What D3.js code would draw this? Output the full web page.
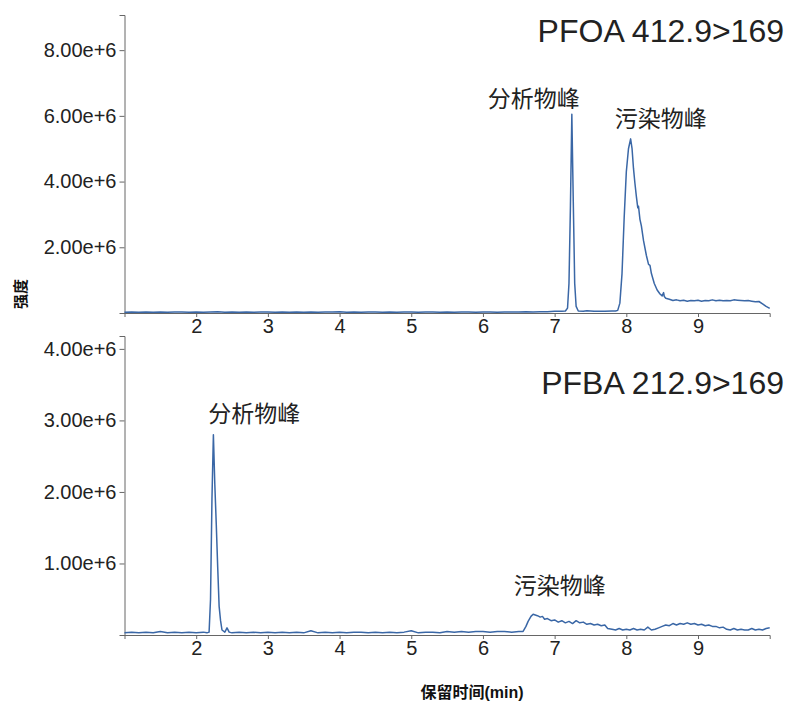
<!DOCTYPE html>
<html>
<head>
<meta charset="utf-8">
<script src="https://cdn.jsdelivr.net/npm/d3@7"></script>
<style>
  body { margin: 0; background: #fff; }
  svg text { font-family: "Liberation Sans", Arial, "Noto Sans CJK SC", sans-serif; }
  .axis path, .axis line { stroke: #666; }
  .axis text { fill: #222; font-size: 20px; }
</style>
</head>
<body>
<div id="chart"></div>
<script>
// retention time (min) and intensity (x 1e6)
var pfoaPoints = [
  [1.0,0.02],[1.1,0.03],[1.2,0.02],[1.3,0.03],[1.4,0.02],[1.5,0.03],[1.6,0.02],[1.7,0.03],[1.8,0.03],[1.9,0.02],
  [2.0,0.03],[2.1,0.02],[2.2,0.03],[2.3,0.04],[2.4,0.02],[2.5,0.03],[2.6,0.02],[2.7,0.03],[2.8,0.02],[2.9,0.03],
  [3.0,0.03],[3.1,0.02],[3.2,0.03],[3.3,0.02],[3.4,0.03],[3.5,0.02],[3.6,0.03],[3.7,0.02],[3.8,0.03],[3.9,0.03],
  [4.0,0.04],[4.1,0.02],[4.2,0.03],[4.3,0.02],[4.4,0.03],[4.5,0.03],[4.6,0.02],[4.7,0.03],[4.8,0.02],[4.9,0.03],
  [5.0,0.03],[5.1,0.02],[5.2,0.03],[5.3,0.03],[5.4,0.02],[5.5,0.03],[5.6,0.02],[5.7,0.03],[5.8,0.03],[5.9,0.02],
  [6.0,0.03],[6.1,0.03],[6.2,0.02],[6.3,0.03],[6.4,0.03],[6.5,0.03],[6.6,0.04],[6.7,0.03],[6.8,0.04],[6.9,0.04],
  [7.0,0.05],[7.1,0.05],[7.15,0.06],[7.18,0.15],[7.2,0.9],[7.22,3.2],[7.24,6.05],[7.26,3.4],[7.28,0.9],[7.3,0.2],
  [7.33,0.06],[7.4,0.05],[7.45,0.07],[7.5,0.06],[7.55,0.05],[7.6,0.05],[7.7,0.05],[7.8,0.06],[7.85,0.06],[7.88,0.08],
  [7.91,0.3],[7.94,1.2],[7.97,2.9],[8.0,4.3],[8.03,5.0],[8.06,5.3],[8.08,5.0],[8.1,4.4],[8.12,3.95],[8.14,3.55],
  [8.16,3.2],[8.17,3.25],[8.19,2.85],[8.21,2.65],[8.24,2.2],[8.28,1.75],[8.31,1.48],[8.33,1.45],[8.35,1.2],[8.39,0.9],
  [8.43,0.7],[8.47,0.58],[8.5,0.52],[8.52,0.62],[8.53,0.5],[8.55,0.45],[8.6,0.42],[8.65,0.38],[8.7,0.4],[8.75,0.37],
  [8.8,0.39],[8.85,0.36],[8.9,0.38],[8.95,0.37],[9.0,0.39],[9.05,0.36],[9.1,0.38],[9.15,0.37],[9.2,0.4],[9.25,0.37],
  [9.3,0.39],[9.35,0.37],[9.4,0.38],[9.45,0.37],[9.5,0.4],[9.55,0.39],[9.6,0.38],[9.65,0.37],[9.7,0.38],[9.75,0.36],
  [9.8,0.34],[9.85,0.35],[9.9,0.28],[9.95,0.2],[10.0,0.14]
];

var pfbaPoints = [
  [1.0,0.03],[1.1,0.04],[1.2,0.03],[1.3,0.04],[1.4,0.03],[1.5,0.05],[1.6,0.03],[1.7,0.04],[1.8,0.03],[1.9,0.04],
  [2.0,0.03],[2.1,0.04],[2.15,0.03],[2.18,0.04],[2.2,0.5],[2.22,1.9],[2.24,2.8],[2.26,2.1],[2.28,1.55],[2.3,0.95],
  [2.32,0.4],[2.34,0.2],[2.36,0.07],[2.4,0.04],[2.43,0.1],[2.46,0.04],[2.5,0.03],[2.6,0.04],[2.7,0.03],[2.8,0.04],
  [2.9,0.03],[3.0,0.04],[3.1,0.03],[3.2,0.04],[3.3,0.03],[3.4,0.04],[3.5,0.03],[3.6,0.06],[3.7,0.03],[3.8,0.04],
  [3.9,0.03],[4.0,0.04],[4.1,0.03],[4.2,0.04],[4.3,0.04],[4.4,0.03],[4.5,0.04],[4.6,0.03],[4.7,0.04],[4.8,0.03],
  [4.9,0.04],[5.0,0.06],[5.1,0.03],[5.2,0.04],[5.3,0.04],[5.4,0.03],[5.5,0.05],[5.6,0.04],[5.7,0.05],[5.8,0.04],
  [5.9,0.05],[6.0,0.05],[6.1,0.04],[6.2,0.05],[6.3,0.05],[6.4,0.04],[6.5,0.05],[6.56,0.05],[6.6,0.12],[6.63,0.19],
  [6.67,0.26],[6.7,0.29],[6.73,0.28],[6.76,0.27],[6.8,0.25],[6.83,0.26],[6.86,0.22],[6.9,0.23],[6.95,0.2],[7.0,0.21],
  [7.05,0.18],[7.1,0.2],[7.15,0.17],[7.2,0.19],[7.25,0.16],[7.3,0.2],[7.35,0.17],[7.4,0.18],[7.45,0.15],[7.5,0.16],
  [7.55,0.14],[7.6,0.15],[7.65,0.13],[7.7,0.14],[7.74,0.09],[7.8,0.08],[7.85,0.07],[7.9,0.09],[7.95,0.07],[8.0,0.08],
  [8.05,0.07],[8.1,0.09],[8.15,0.07],[8.2,0.08],[8.25,0.07],[8.3,0.11],[8.35,0.07],[8.4,0.08],[8.45,0.1],[8.5,0.12],
  [8.55,0.14],[8.6,0.13],[8.65,0.16],[8.7,0.14],[8.75,0.16],[8.8,0.15],[8.85,0.17],[8.9,0.15],[8.95,0.16],[9.0,0.14],
  [9.05,0.15],[9.1,0.13],[9.15,0.14],[9.2,0.12],[9.25,0.12],[9.3,0.1],[9.35,0.11],[9.4,0.08],[9.45,0.07],[9.5,0.09],
  [9.55,0.07],[9.6,0.08],[9.65,0.07],[9.7,0.07],[9.75,0.09],[9.8,0.07],[9.85,0.08],[9.9,0.07],[9.95,0.09],[10.0,0.1]
];

var xTicks = [2, 3, 4, 5, 6, 7, 8, 9];
var pfoaYTicks = [2, 4, 6, 8];
var pfbaYTicks = [1, 2, 3, 4];

var panelTitles = ["PFOA 412.9>169", "PFBA 212.9>169"];
// peak labels: text, time, intensity at the text baseline
var pfoaLabels = [["分析物峰", 6.71, 6.27], ["污染物峰", 8.48, 5.66]];
var pfbaLabels = [["分析物峰", 2.81, 2.98], ["污染物峰", 7.07, 0.58]];

var width = 790
var height = 702
var lineColor = '#3a67a6'

var svg = d3.select('#chart').append('svg')
    .attr('width', width)
    .attr('height', height)

var x = d3.scaleLinear().domain([1, 10]).range([124.5, 769.7])

var fmt = d3.format('.2e')

function panel(points, yMax, yTop, yBottom, yTicks, title, titleY, labels) {
    var y = d3.scaleLinear().domain([0, yMax]).range([yBottom, yTop])

    svg.append('g')
        .attr('class', 'axis')
        .attr('transform', 'translate(0,' + yBottom + ')')
        .call(d3.axisBottom(x).tickValues(xTicks).tickSize(4).tickSizeOuter(4).tickPadding(2)
            .tickFormat(d3.format('d')))

    svg.append('g')
        .attr('class', 'axis')
        .attr('transform', 'translate(' + x(1) + ',0)')
        .call(d3.axisLeft(y).tickValues(yTicks).tickSize(5).tickSizeOuter(5).tickPadding(3)
            .tickFormat(function (d) { return fmt(d * 1e6) }))

    var line = d3.line()
        .x(function (d) { return x(d[0]) })
        .y(function (d) { return y(d[1]) })

    svg.append('path')
        .datum(points)
        .attr('d', line)
        .attr('fill', 'none')
        .attr('stroke', lineColor)
        .attr('stroke-width', 1.5)
        .attr('stroke-linejoin', 'round')

    svg.append('text')
        .attr('x', 784)
        .attr('y', titleY)
        .attr('text-anchor', 'end')
        .style('font-size', '32px')
        .style('fill', '#222')
        .text(title)

    svg.selectAll(null)
        .data(labels)
        .enter()
        .append('text')
        .attr('x', function (d) { return x(d[1]) })
        .attr('y', function (d) { return y(d[2]) })
        .attr('text-anchor', 'middle')
        .style('font-size', '23px')
        .style('fill', '#222')
        .text(function (d) { return d[0] })
}

panel(pfoaPoints, 9.07, 15, 313, pfoaYTicks, panelTitles[0], 42, pfoaLabels)
panel(pfbaPoints, 4.18, 336, 635, pfbaYTicks, panelTitles[1], 394, pfbaLabels)

// axis titles
svg.append('text')
    .attr('transform', 'translate(26,294) rotate(-90)')
    .attr('text-anchor', 'middle')
    .style('font-size', '15px')
    .style('font-weight', 'bold')
    .style('fill', '#111')
    .text('强度')

svg.append('text')
    .attr('x', 472)
    .attr('y', 698)
    .attr('text-anchor', 'middle')
    .style('font-size', '16px')
    .style('font-weight', 'bold')
    .style('fill', '#111')
    .text('保留时间(min)')
</script>
</body>
</html>
